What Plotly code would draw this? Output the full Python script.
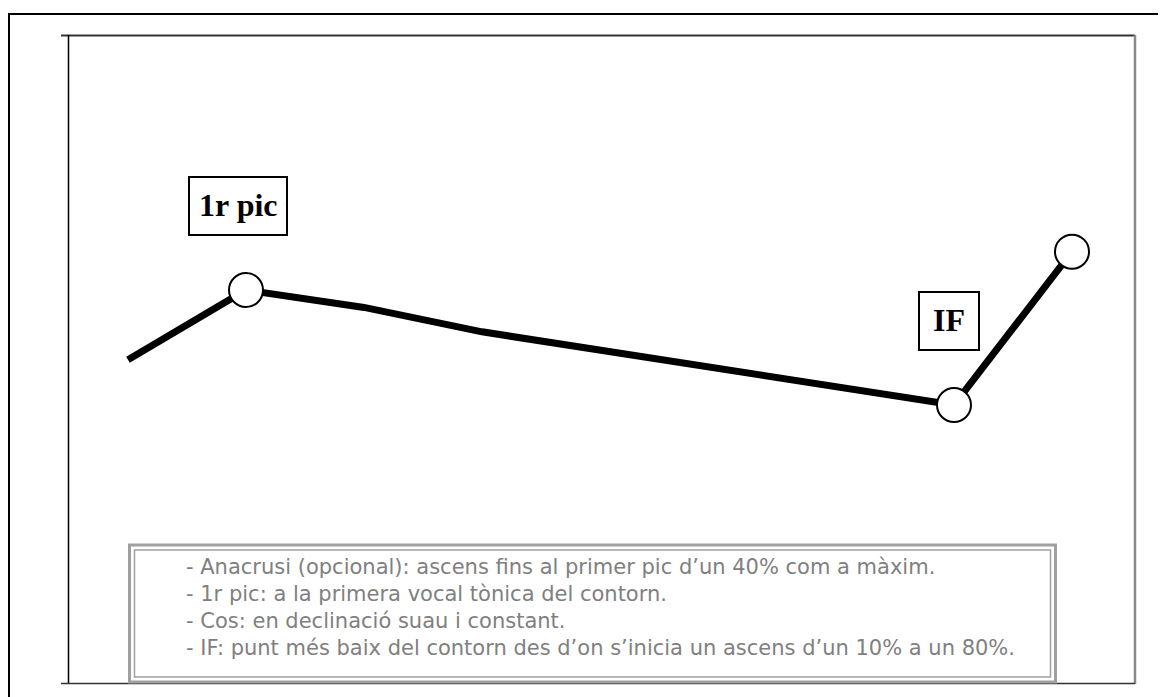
import plotly.graph_objects as go

# Data: syllable index vs. pitch (Hz, estimated)
syllables = [0, 1, 2, 3, 7, 8]
pitch_hz = [180, 200, 195, 188, 167, 211]
marked_syllables = [1, 7, 8]
marked_pitch = [200, 167, 211]
label_texts = ["1r pic", "IF"]
legend_lines = [
    "- Anacrusi (opcional): ascens fins al primer pic d\u2019un 40% com a màxim.",
    "- 1r pic: a la primera vocal tònica del contorn.",
    "- Cos: en declinació suau i constant.",
    "- IF: punt més baix del contorn des d\u2019on s\u2019inicia un ascens d\u2019un 10% a un 80%.",
]

W, H = 1166, 697
OFF = 8  # page body margin
L, R, T, B = 60, 39, 28, 22
PW, PH = W - L - R, H - T - B


def px(x):
    """page pixel x -> paper coordinate"""
    return (x - OFF - L) / PW


def py(y):
    """page pixel y -> paper coordinate"""
    return (H - B - (y - OFF)) / PH


fig = go.Figure()
fig.add_trace(go.Scatter(x=syllables, y=pitch_hz, mode="lines",
                         line=dict(color="black", width=7),
                         hoverinfo="skip", showlegend=False))
fig.add_trace(go.Scatter(x=marked_syllables, y=marked_pitch, mode="markers",
                         marker=dict(size=34, color="white", symbol="circle",
                                     line=dict(color="black", width=2)),
                         hoverinfo="skip", showlegend=False))

shapes = []


def line(x0, y0, x1, y1, color, width):
    shapes.append(dict(type="line", xref="paper", yref="paper",
                       x0=px(x0), y0=py(y0), x1=px(x1), y1=py(y1),
                       line=dict(color=color, width=width), layer="below"))


def rect(x0, y0, x1, y1, color, width, fill="rgba(0,0,0,0)", layer="above"):
    shapes.append(dict(type="rect", xref="paper", yref="paper",
                       x0=px(x0), y0=py(y0), x1=px(x1), y1=py(y1),
                       line=dict(color=color, width=width), fillcolor=fill,
                       layer=layer))


# outer frame
line(8, 14, 1180, 14, "black", 2)
line(9, 14, 9, 700, "black", 2)
# inner frame
line(61, 35.5, 1135, 35.5, "#333333", 2)
line(68.5, 35, 68.5, 684, "black", 1.5)
line(1135, 35, 1135, 684, "#888888", 2.5)
line(61, 683.5, 1135, 683.5, "#333333", 1.5)
# legend box (double border)
rect(129.5, 545, 1055.5, 682, "#a0a0a0", 3, fill="white", layer="above")
rect(134.5, 550, 1050.5, 677, "#a0a0a0", 1.5)
# label boxes
rect(189, 177, 287, 235, "black", 2, fill="white")
rect(919, 292, 979, 350, "black", 2, fill="white")

annotations = [
    dict(text="<b>%s</b>" % label_texts[0], xref="paper", yref="paper",
         x=px(238), y=py(205), xanchor="center", yanchor="middle", showarrow=False,
         font=dict(family="Liberation Serif", size=32, color="black")),
    dict(text="<b>%s</b>" % label_texts[1], xref="paper", yref="paper",
         x=px(949), y=py(320), xanchor="center", yanchor="middle", showarrow=False,
         font=dict(family="Liberation Serif", size=32, color="black")),
]
legend_y = [567, 594, 621, 648]
for t, yy in zip(legend_lines, legend_y):
    annotations.append(dict(text=t, xref="paper", yref="paper",
                            x=px(184), y=py(yy), xanchor="left", yanchor="middle",
                            showarrow=False, align="left",
                            font=dict(family="DejaVu Sans", size=21, color="#808080")))

# axis ranges: 118 px per syllable, first point at x=128 px (page)
x_scale = 118.0
x_min = syllables[0] - (128 - (L + OFF)) / x_scale
x_max = x_min + PW / x_scale
# 3.485 px per Hz, 200 Hz at y=290 px (page)
y_scale = 3.485
y_max = 200 + (290 - (T + OFF)) / y_scale
y_min = y_max - PH / y_scale

fig.update_layout(
    width=W, height=H,
    margin=dict(l=L, r=R, t=T, b=B),
    paper_bgcolor="white", plot_bgcolor="white",
    xaxis=dict(range=[x_min, x_max], visible=False),
    yaxis=dict(range=[y_min, y_max], visible=False),
    shapes=shapes, annotations=annotations,
    showlegend=False,
)
fig.write_html("out.html")
